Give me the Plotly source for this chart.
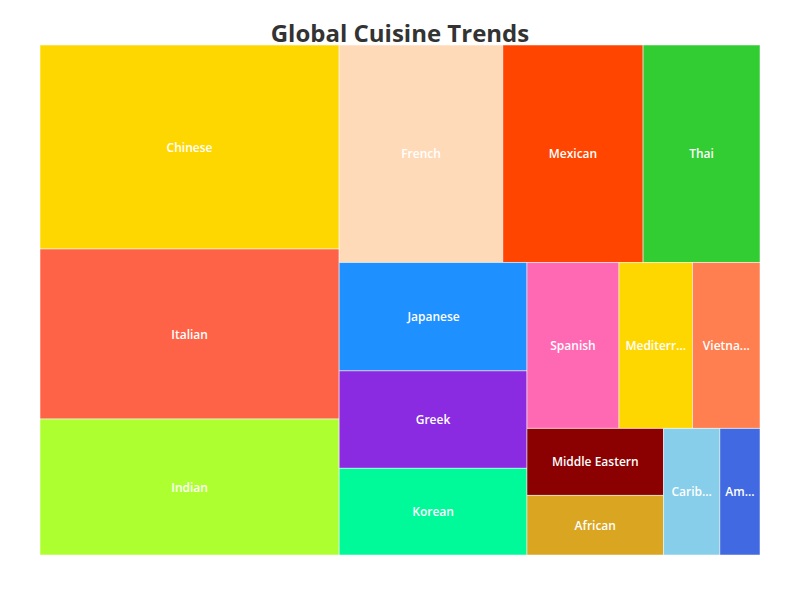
import plotly.graph_objects as go

cuisines = ["Chinese", "Italian", "Indian", "French", "Mexican", "Thai", "Japanese", "Greek",
            "Korean", "Spanish", "Mediterranean", "Vietnamese", "Middle Eastern", "African",
            "Caribbean", "American"]
display_labels = ["Chinese", "Italian", "Indian", "French", "Mexican", "Thai", "Japanese", "Greek",
                  "Korean", "Spanish", "Mediterr...", "Vietna...", "Middle Eastern", "African",
                  "Carib...", "Am..."]
popularity = [60, 50, 40, 35, 30, 25, 20, 18, 16, 15, 12, 11, 9, 8, 7, 5]
colors = ["#FFD700", "#FF6347", "#ADFF2F", "#FFDAB9", "#FF4500", "#32CD32", "#1E90FF", "#8A2BE2",
          "#00FA9A", "#FF69B4", "#FFD700", "#FF7F50", "#8B0000", "#DAA520", "#87CEEB", "#4169E1"]

fig = go.Figure(go.Treemap(
    labels=cuisines,
    parents=[""] * len(cuisines),
    values=popularity,
    text=display_labels,
    texttemplate="%{text}",
    marker=dict(colors=colors, line=dict(width=1, color="rgba(255,255,255,0.5)"),
                pad=dict(t=0, l=0, r=0, b=0)),
    tiling=dict(packing="squarify", squarifyratio=1.618034, pad=0),
    textposition="middle center",
    textfont=dict(color="white", size=12, family="Open Sans", weight=600),
    pathbar=dict(visible=False),
    hoverinfo="label+value",
))

fig.update_layout(
    width=800, height=600,
    margin=dict(l=40, r=40, t=45, b=45),
    paper_bgcolor="white",
    font=dict(family="Open Sans"),
    uniformtext=dict(minsize=12),
    title=dict(text="<b>Global Cuisine Trends</b>", x=0.5, xanchor="center",
               y=1 - 34 / 600, yanchor="middle",
               font=dict(size=24, color="#333333", family="Open Sans")),
)

fig.write_html("out.html")
